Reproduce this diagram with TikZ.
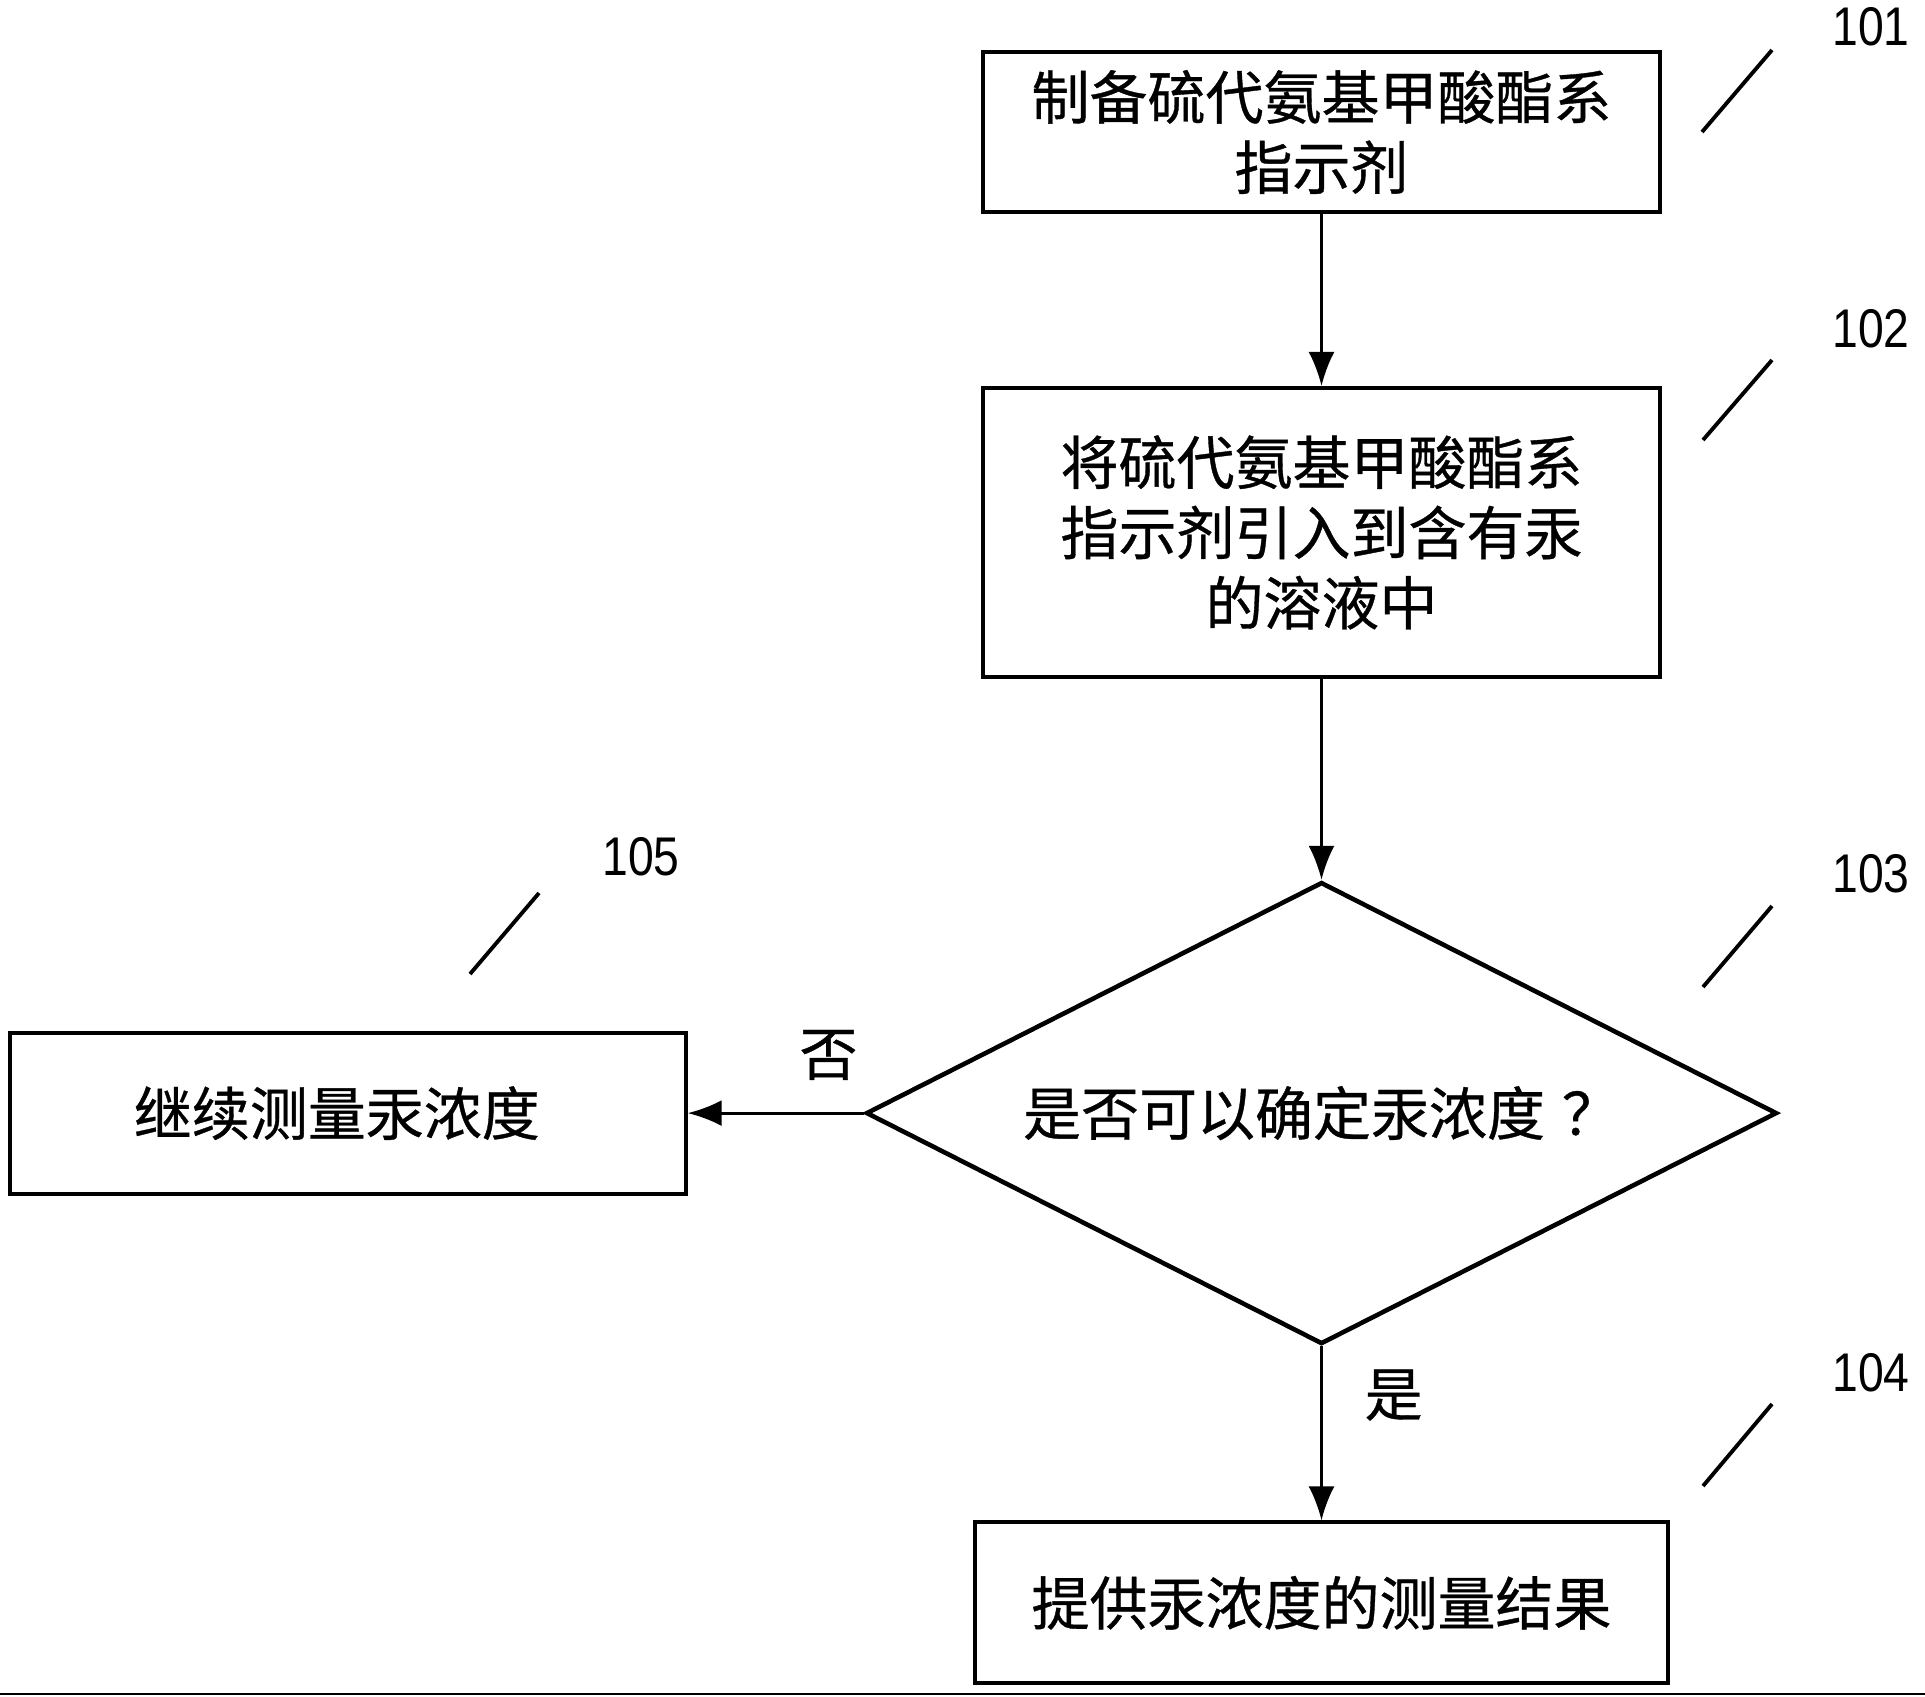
\documentclass[tikz,border=0pt]{standalone}
\usepackage{fontspec}
\usepackage{tikz}
\usetikzlibrary{positioning}
\usetikzlibrary{shapes,arrows.meta}
\newfontfamily\cjk[FakeBold=0.6]{Noto Sans CJK SC}
\newfontfamily\numfont[FakeStretch=0.85]{Liberation Sans}
\tikzstyle{block} = [rectangle, draw, line width=1.1pt, text centered, align=center,
                minimum width=6.77cm, font=\cjk\fontsize{16.5}{20}\selectfont]
\tikzstyle{decision} = [diamond, draw, line width=1.3pt, aspect=1.97, inner sep=0pt,
                minimum width=9.11cm, minimum height=4.62cm, font=\cjk\fontsize{16.5}{20}\selectfont]
\tikzstyle{line} = [draw, line width=0.8pt, -{Latex[length=3.4mm,width=2.6mm]}]
\tikzstyle{lead} = [draw, line width=1.1pt]
\tikzstyle{num} = [font=\numfont\fontsize{15.5}{18}\selectfont]
\tikzstyle{answer} = [font=\cjk\fontsize{16.5}{20}\selectfont]

\begin{document}
\begin{tikzpicture}
            \useasboundingbox (0,0) rectangle (19.25,-16.96);
            \node[block, minimum height=1.60cm](prep) at (13.215,-1.32){制备硫代氨基甲酸酯系\\指示剂};
            \node[block, minimum height=2.89cm, below=1.72cm of prep](mix){将硫代氨基甲酸酯系\\指示剂引入到含有汞\\的溶液中};
            \node[decision, below=2.01cm of mix](check){是否可以确定汞浓度\hspace{0.17cm}？};
            \node[block, minimum height=1.61cm, minimum width=6.93cm, below=1.74cm of check](result){提供汞浓度的测量结果};
            \node[block, minimum height=1.61cm, minimum width=6.76cm, left=1.76cm of check](goon){继续测量汞浓度\hspace*{0.22cm}};
            \path[line] (prep) -- (mix);
            \path[line] (mix) -- (check);
            \path[line] (check) -- node[answer, above=0.2cm, pos=0.2]{否} (goon);
            \path[line] (check) -- node[answer, right=0.3cm, pos=0.28]{是} (result);
            % reference numerals
            \node[num](n101) at (18.71,-0.27){101};
            \node[num](n102) at (18.71,-3.29){102};
            \node[num](n103) at (18.71,-8.74){103};
            \node[num](n104) at (18.71,-13.73){104};
            \node[num](n105) at (6.41,-8.57){105};
            \draw[lead] (17.02,-1.32) -- (17.72,-0.50);
            \draw[lead] (17.03,-4.40) -- (17.72,-3.60);
            \draw[lead] (17.03,-9.87) -- (17.72,-9.06);
            \draw[lead] (17.03,-14.86) -- (17.72,-14.04);
            \draw[lead] (4.70,-9.74) -- (5.39,-8.93);
            % bottom rule
            \draw[line width=0.6pt] (0,-16.94) -- (19.25,-16.94);
        \end{tikzpicture}
\end{document}
